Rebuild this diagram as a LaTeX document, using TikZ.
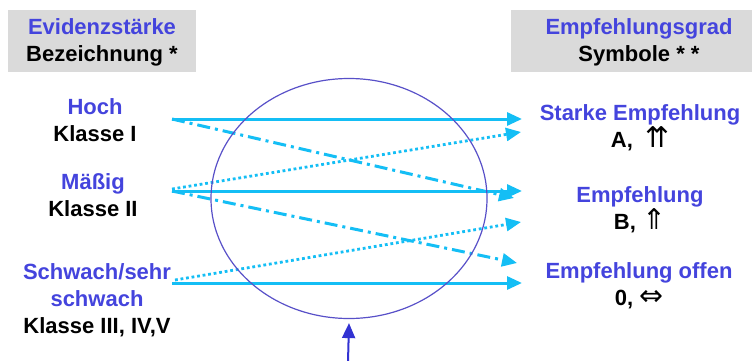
\documentclass[tikz,border=0pt]{standalone}
\usepackage{fontspec}
\setmainfont{Liberation Sans}
\newfontfamily\symfont[Scale=1.3]{DejaVu Sans}
\usetikzlibrary{arrows.meta,shapes.geometric}
\definecolor{txtblau}{RGB}{68,68,221}
\definecolor{pfeilcyan}{RGB}{20,190,245}
\definecolor{lila}{RGB}{88,80,200}
\definecolor{kastengrau}{RGB}{218,218,218}
\definecolor{zeigerblau}{RGB}{50,50,210}
\begin{document}
\begin{tikzpicture}[x=1pt,y=-1pt,
  every node/.style={inner sep=0pt,align=center,font=\fontsize{22}{27}\selectfont\bfseries},
  kasten/.style={fill=kastengrau},
  pfeil/.style={draw=pfeilcyan,line width=3pt,-{Triangle[length=15pt,width=13pt]}},
  punkt/.style={pfeil,line width=2.8pt,dash pattern=on 2.8pt off 2.8pt},
  strichpunkt/.style={pfeil,dash pattern=on 13pt off 5pt on 3pt off 5pt},
  zeiger/.style={draw=zeigerblau,line width=2pt,-{Triangle[length=15pt,width=13pt]}}]
        \useasboundingbox (0,0) rectangle (752,361);
        \fill [kasten] (8,10) rectangle (196,72);
        \fill [kasten] (511,10) rectangle (752,72);
        \node (evidenz) at (102,42) {\textcolor{txtblau}{Evidenzstärke}\\Bezeichnung *};
        \node (grad) at (639,42) {\textcolor{txtblau}{Empfehlungsgrad}\\Symbole * *};
        \node (hoch) at (95,120) {\textcolor{txtblau}{Hoch}\\Klasse I};
        \node (maessig) at (93,195) {\textcolor{txtblau}{Mäßig}\\Klasse II};
        \node (schwach) at (97,300) {\textcolor{txtblau}{Schwach/sehr}\\\textcolor{txtblau}{schwach}\\Klasse III, IV,V};
        \node (stark) at (640,128) {\textcolor{txtblau}{Starke Empfehlung}\\A,\ \ {\symfont\mdseries ⇈}};
        \node (empf) at (640,210) {\textcolor{txtblau}{Empfehlung}\\B, {\symfont\mdseries ⇑}};
        \node (offen) at (639,286) {\textcolor{txtblau}{Empfehlung offen}\\0, {\symfont\mdseries ⇔}};
        \coordinate (l1) at (172,119);
        \coordinate (l2) at (172,191);
        \coordinate (l2p) at (172,189);
        \coordinate (l3) at (172,283);
        \coordinate (l3p) at (175,280);
        \coordinate (r1) at (522,119);
        \coordinate (r1p) at (521,132);
        \coordinate (r2) at (522,191);
        \coordinate (r2s) at (514,198);
        \coordinate (r2p) at (521,222);
        \coordinate (r3s) at (517,263);
        \coordinate (r3) at (522,283);
        \draw [pfeil] (l1) -- (r1);
        \draw [pfeil] (l2) -- (r2);
        \draw [pfeil] (l3) -- (r3);
        \draw [punkt] (l2p) -- (r1p);
        \draw [punkt] (l3p) -- (r2p);
        \draw [strichpunkt] (l1) -- (r2s);
        \draw [strichpunkt] (l2) -- (r3s);
        \node (linse) [ellipse,draw=lila,line width=1.2pt,minimum width=276pt,minimum height=240pt] at (349,198.5) {};
        \coordinate (fuss) at (348,362);
        \draw [zeiger] (fuss) -- ([yshift=-4pt]linse.south);
\end{tikzpicture}
\end{document}
